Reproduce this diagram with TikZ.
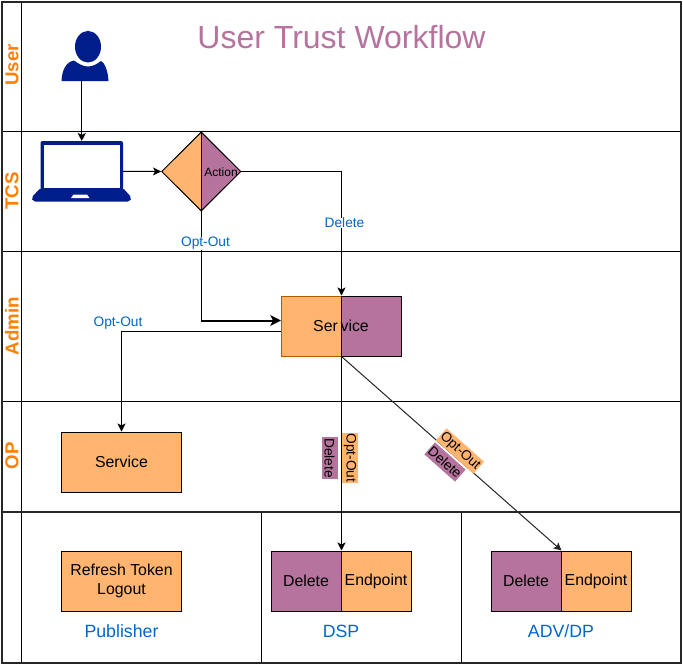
\documentclass[tikz,border=0pt]{standalone}
\usepackage{fontspec}
\setmainfont{Liberation Sans}
\usetikzlibrary{shapes.geometric,arrows.meta}
\definecolor{orangefill}{HTML}{FFB570}
\definecolor{purplefill}{HTML}{B5739D}
\definecolor{laneorange}{HTML}{FF8000}
\definecolor{blueink}{HTML}{0066CC}
\definecolor{navy}{HTML}{001D8C}
\newcommand{\fs}[1]{\fontsize{#1}{14.25}\selectfont}
\tikzset{
  lane/.style={draw=black,line width=.75pt},
  frameline/.style={draw=black!85,line width=1.5pt},
  lanelabel/.style={rotate=90,font=\fs{14}\bfseries,text=laneorange,inner sep=0pt},
  box/.style={draw=black,line width=.75pt,minimum height=45pt,inner sep=0pt,align=center,font=\fs{11.9}},
  orangebox/.style={box,fill=orangefill},
  purplebox/.style={box,fill=purplefill},
  blue label/.style={font=\fs{10.3},text=blueink,fill=white,inner sep=0pt},
  col label/.style={font=\fs{13.3},text=blueink,inner sep=0pt},
  tag/.style={font=\fs{10.3},minimum height=12pt,inner xsep=.5pt,inner ysep=0pt},
  conn/.style={draw=black,line width=.75pt,-{Stealth[length=6pt,width=6pt,inset=1.5pt]}},
  thickconn/.style={draw=black,line width=1.5pt,-{Stealth[length=8pt,width=8pt,inset=2pt]}},
}
\begin{document}
\begin{tikzpicture}[x=.75pt,y=-.75pt]
\useasboundingbox (0,0) rectangle (683,665);
% lanes
\draw[lane] (2,131) -- (681,131);
\draw[lane] (2,251) -- (681,251);
\draw[lane] (2,401) -- (681,401);
\draw[lane] (21.5,2) -- (21.5,662);
\draw[lane] (261.5,511) -- (261.5,662);
\draw[lane] (461.5,511) -- (461.5,662);
\draw[frameline] (2,511.5) -- (681,511.5);
\draw[frameline] (2,1.5) rectangle (681,662.5);
\node[lanelabel] (laneuser) at (12,65) {User};
\node[lanelabel] (lanetcs) at (12,191) {TCS};
\node[lanelabel] (laneadmin) at (12,326) {Admin};
\node[lanelabel] (laneop) at (12,456) {OP};
% title
\node[font=\fs{24},text=purplefill,inner sep=0pt] (title) at (341.5,37) {User Trust Workflow};
% person
\node[minimum width=39.75pt,minimum height=37.5pt,inner sep=0pt] (person) at (81.75,56) {};
\fill[navy] (88,46.7) ellipse [x radius=13,y radius=15.8];
\fill[navy] (61.5,81) .. controls (62,70) and (66,62) .. (74,60.5)
  .. controls (79,64) and (83,66.5) .. (88,66.5)
  .. controls (93,66.5) and (97,64) .. (101,61)
  .. controls (104,62) and (108,70) .. (108.5,81) -- cycle;
% laptop
\node[minimum width=61.5pt,minimum height=45pt,inner sep=0pt] (laptop) at (81.75,171.25) {};
\fill[navy,rounded corners=1.5pt] (40.5,190) -- (40.5,141) -- (123,141) -- (123,190) -- cycle;
\fill[white] (44,145) rectangle (119.5,188);
\fill[navy,rounded corners=1.5pt] (40.5,188) -- (31.5,197.5) -- (33,201.5) -- (130,201.5) -- (131.5,197.5) -- (123,188) -- cycle;
\fill[white] (71,198) -- (89.5,198) -- (87,194.5) -- (73.5,194.5) -- cycle;
% diamond
\fill[orangefill] (162,171.5) -- (201.25,132) -- (201.25,211) -- cycle;
\fill[purplefill] (241,171.5) -- (201.25,132) -- (201.25,211) -- cycle;
\node[diamond,draw=black,line width=.75pt,minimum width=59.6pt,minimum height=59.3pt,inner sep=0pt] (action) at (201.25,171.5) {};
\draw[line width=.75pt] (action.north) -- (action.south);
\node[font=\fs{9},inner sep=0pt] (actionlabel) at (221,172) {Action};
% service
\node[orangebox,draw=orange!70!black,minimum width=45pt] (svcL) at (311,326) {};
\node[purplebox,minimum width=45pt] (svcR) at (371,326) {};
% OP service
\node[orangebox,minimum width=90pt] (opsvc) at (121.5,462) {\raisebox{.75pt}{Service}};
% bottom boxes
\node[orangebox,minimum width=90pt] (refresh) at (121.5,581) {\raisebox{-1pt}{Refresh Token}\\\raisebox{-1pt}{Logout}};
\node[purplebox,minimum width=52.5pt] (dspdel) at (306,581) {Delete};
\node[orangebox,minimum width=52.5pt] (dspend) at (376,581) {Endpoint};
\node[purplebox,minimum width=52.5pt] (advdel) at (526,581) {Delete};
\node[orangebox,minimum width=52.5pt] (advend) at (596,581) {Endpoint};
\node[col label] (pub) at (121.5,631) {Publisher};
\node[col label] (dsp) at (341,631) {DSP};
\node[col label] (adv) at (561,631) {ADV/DP};
% named free ends
\coordinate (optin) at (281,320.5);
\coordinate (optout) at (281,331.5);
% connectors
\draw[conn] (person.south) -- (laptop.north);
\draw[conn] (laptop.east) -- (action.west);
\draw[conn] (action.east) -| (svcL.north east);
\draw[line width=.75pt] (action.south) -- ++(0,109);
\draw[thickconn] (action.south |- optin) -- (optin);
\draw[conn] (optout) -| (opsvc.north);
\draw[conn] (svcL.south east) -- (dspdel.north east);
\draw[conn,draw=black!85] (svcL.south east) -- (advdel.north east);
\node[font=\fs{11.9},inner sep=0pt] (svctext) at (341,325.5) {Ser\kern2pt vice};
% labels
\node[blue label] (lbldelete) at (344.5,223) {Delete};
\node[blue label] (lbloptout) at (205.5,243.5) {Opt-Out};
\node[blue label] (lbloptout2) at (118,323) {Opt-Out};
\node[tag,fill=orangefill,rotate=-90] (tagopt) at (350,458) {Opt-Out};
\node[tag,fill=purplefill,rotate=-90] (tagdel) at (329.5,458) {Delete};
\node[tag,fill=orangefill,rotate=-41.6] (tagopt2) at (460,451) {Opt-Out};
\node[tag,fill=purplefill,rotate=-41.6] (tagdel2) at (445,462) {Delete};
\end{tikzpicture}
\end{document}
